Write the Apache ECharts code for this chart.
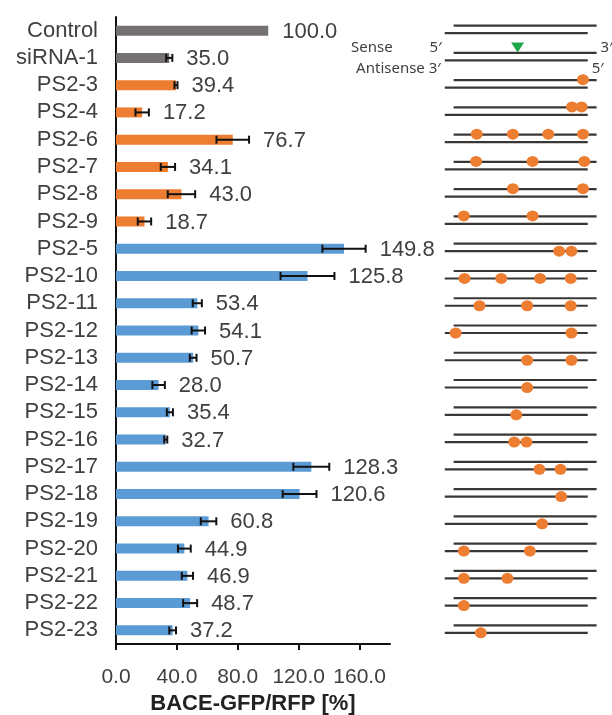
<!DOCTYPE html>
<html>
<head>
<meta charset="utf-8">
<script src="https://cdn.jsdelivr.net/npm/echarts@6/dist/echarts.min.js"></script>
<style>
  html, body { margin: 0; padding: 0; background: #fff; }
  #chart { width: 612px; height: 715px; }
</style>
</head>
<body>
<div id="chart"></div>
<script>
// categories, top to bottom
const categories = ['Control', 'siRNA-1', 'PS2-3', 'PS2-4', 'PS2-6', 'PS2-7', 'PS2-8', 'PS2-9',
  'PS2-5', 'PS2-10', 'PS2-11', 'PS2-12', 'PS2-13', 'PS2-14', 'PS2-15', 'PS2-16',
  'PS2-17', 'PS2-18', 'PS2-19', 'PS2-20', 'PS2-21', 'PS2-22', 'PS2-23'];
// BACE-GFP/RFP [%]
const values = [100.0, 35.0, 39.4, 17.2, 76.7, 34.1, 43.0, 18.7,
  149.8, 125.8, 53.4, 54.1, 50.7, 28.0, 35.4, 32.7,
  128.3, 120.6, 60.8, 44.9, 46.9, 48.7, 37.2];
const errors = [0, 2.0, 1.0, 4.4, 10.7, 4.7, 9.0, 4.4,
  14.2, 17.7, 3.0, 4.4, 2.2, 4.1, 2.0, 1.0,
  11.8, 11.1, 5.1, 4.2, 3.7, 4.6, 2.2];
// 0 = control, 1 = sense strand modified, 2 = antisense strand modified
const groups = [0, 0, 1, 1, 1, 1, 1, 1,
  2, 2, 2, 2, 2, 2, 2, 2, 2, 2, 2, 2, 2, 2, 2];
const xTicks = [0, 40, 80, 120, 160];

// modification sites (position along the duplex, nucleotides from sense 5' end)
const senseMods = [
  ['PS2-3', 19.0],
  ['PS2-4', 17.4], ['PS2-4', 18.8],
  ['PS2-6', 3.4], ['PS2-6', 8.7], ['PS2-6', 13.9], ['PS2-6', 19.0],
  ['PS2-7', 3.3], ['PS2-7', 11.6], ['PS2-7', 19.2],
  ['PS2-8', 8.7], ['PS2-8', 19.0],
  ['PS2-9', 1.5], ['PS2-9', 11.6]
];
const antisenseMods = [
  ['PS2-5', 15.5], ['PS2-5', 17.3],
  ['PS2-10', 1.6], ['PS2-10', 7.0], ['PS2-10', 12.7], ['PS2-10', 17.2],
  ['PS2-11', 3.8], ['PS2-11', 10.8], ['PS2-11', 17.2],
  ['PS2-12', 0.3], ['PS2-12', 17.3],
  ['PS2-13', 10.8], ['PS2-13', 17.3],
  ['PS2-14', 10.8],
  ['PS2-15', 9.2],
  ['PS2-16', 8.9], ['PS2-16', 10.7],
  ['PS2-17', 12.6], ['PS2-17', 15.7],
  ['PS2-18', 15.8],
  ['PS2-19', 13.0],
  ['PS2-20', 1.5], ['PS2-20', 11.2],
  ['PS2-21', 1.5], ['PS2-21', 7.9],
  ['PS2-22', 1.5],
  ['PS2-23', 4.0]
];
const cleavageSite = [['siRNA-1', 9.4]];
const senseStrand = [0, 21];
const antisenseStrand = [-1.3, 19.7];

const groupColors = ['#767171', '#ED7D31', '#5B9BD5'];
const textColor = '#404040';
const font = "'Liberation Sans', Arial, sans-serif";

const chart = echarts.init(document.getElementById('chart'));

chart.setOption({
  animation: false,
  grid: [
    { left: 116, right: 222, top: 17, bottom: 71, outerBoundsMode: 'none', containLabel: false },
    { left: 440, right: 12, top: 17, bottom: 71, outerBoundsMode: 'none', containLabel: false }
  ],
  xAxis: [
    {
      type: 'value', gridIndex: 0, min: 0, max: 180,
      name: 'BACE-GFP/RFP [%]', nameLocation: 'middle', nameGap: 49,
      nameTextStyle: { fontSize: 22, fontWeight: 'bold', color: '#222', fontFamily: font },
      splitLine: { show: false },
      axisLine: { show: true, lineStyle: { color: '#111', width: 2 } },
      axisTick: { show: true, length: 6, lineStyle: { color: '#111', width: 2 }, customValues: xTicks },
      axisLabel: {
        fontSize: 21, color: textColor, fontFamily: font, margin: 23,
        customValues: xTicks, formatter: (v) => v.toFixed(1)
      }
    },
    { type: 'value', gridIndex: 1, min: -2, max: 21.5, show: false }
  ],
  yAxis: [
    {
      type: 'category', gridIndex: 0, data: categories, inverse: true,
      axisLine: { lineStyle: { color: '#111', width: 2 } },
      axisTick: { interval: 0, length: 6, lineStyle: { color: '#111', width: 2 } },
      axisLabel: { interval: 0, fontSize: 22, color: textColor, fontFamily: font, margin: 18 }
    },
    { type: 'category', gridIndex: 1, data: categories, inverse: true, show: false }
  ],
  series: [
    {
      type: 'bar', xAxisIndex: 0, yAxisIndex: 0, barWidth: 10,
      data: values.map((v, i) => ({ value: v, itemStyle: { color: groupColors[groups[i]] } }))
    },
    {
      // error bars + value labels
      type: 'custom', xAxisIndex: 0, yAxisIndex: 0, z: 5, clip: false,
      encode: { x: 0, y: 1 },
      data: values.map((v, i) => [v, i, errors[i]]),
      renderItem: (params, api) => {
        const v = api.value(0), cat = api.value(1), e = api.value(2);
        const lo = api.coord([v - e, cat]);
        const hi = api.coord([v + e, cat]);
        const children = [];
        if (e > 0) {
          const st = { stroke: '#111', lineWidth: 2 };
          children.push(
            { type: 'line', shape: { x1: lo[0], y1: lo[1], x2: hi[0], y2: hi[1] }, style: st },
            { type: 'line', shape: { x1: lo[0], y1: lo[1] - 4, x2: lo[0], y2: lo[1] + 4 }, style: st },
            { type: 'line', shape: { x1: hi[0], y1: hi[1] - 4, x2: hi[0], y2: hi[1] + 4 }, style: st }
          );
        }
        children.push({
          type: 'text',
          style: {
            x: hi[0] + 14, y: hi[1] + 1, text: v.toFixed(1),
            fill: textColor, font: '22px ' + font,
            align: 'left', verticalAlign: 'middle'
          }
        });
        return { type: 'group', children };
      }
    },
    {
      // duplex strands
      type: 'custom', xAxisIndex: 1, yAxisIndex: 1, z: 1, clip: false,
      encode: { x: 0, y: 1 },
      data: categories.map((c, i) => [0, i]),
      renderItem: (params, api) => {
        const cat = api.value(1);
        const s0 = api.coord([senseStrand[0], cat]);
        const s1 = api.coord([senseStrand[1], cat]);
        const a0 = api.coord([antisenseStrand[0], cat]);
        const a1 = api.coord([antisenseStrand[1], cat]);
        const ys = s0[1] - 5, ya = s0[1] + 2.5;
        const st = { stroke: '#3a3634', lineWidth: 2.2 };
        const children = [
          { type: 'line', shape: { x1: s0[0], y1: ys, x2: s1[0], y2: ys }, style: st },
          { type: 'line', shape: { x1: a0[0], y1: ya, x2: a1[0], y2: ya }, style: st }
        ];
        if (categories[params.dataIndex] === cleavageSite[0][0]) {
          const tf = "15px 'Noto Sans', sans-serif";
          const txt = (x, y, text, align) => ({
            type: 'text',
            style: { x, y, text, align, verticalAlign: 'middle', fill: textColor, font: tf }
          });
          children.push(
            txt(s0[0] - 61, ys - 5, 'Sense', 'right'),
            txt(s0[0] - 12, ys - 5, '5\u2032', 'right'),
            txt(s1[0] + 4, ys - 5, '3\u2032', 'left'),
            txt(a0[0] - 4, ya + 8, 'Antisense 3\u2032', 'right'),
            txt(a1[0] + 4, ya + 8, '5\u2032', 'left')
          );
        }
        return { type: 'group', children };
      }
    },
    {
      type: 'scatter', xAxisIndex: 1, yAxisIndex: 1, z: 3,
      symbol: 'circle', symbolSize: [12, 11], symbolOffset: [0, -5.5],
      itemStyle: { color: '#ED7D31', opacity: 1 },
      data: senseMods.map(d => [d[1], d[0]])
    },
    {
      type: 'scatter', xAxisIndex: 1, yAxisIndex: 1, z: 3,
      symbol: 'circle', symbolSize: [12, 11], symbolOffset: [0, 2.5],
      itemStyle: { color: '#ED7D31', opacity: 1 },
      data: antisenseMods.map(d => [d[1], d[0]])
    },
    {
      type: 'scatter', xAxisIndex: 1, yAxisIndex: 1, z: 3,
      symbol: 'triangle', symbolRotate: 180, symbolSize: [13, 10], symbolOffset: [0, -10.5],
      itemStyle: { color: '#21A54A', opacity: 1 },
      data: cleavageSite.map(d => [d[1], d[0]])
    }
  ]
});
</script>
</body>
</html>
